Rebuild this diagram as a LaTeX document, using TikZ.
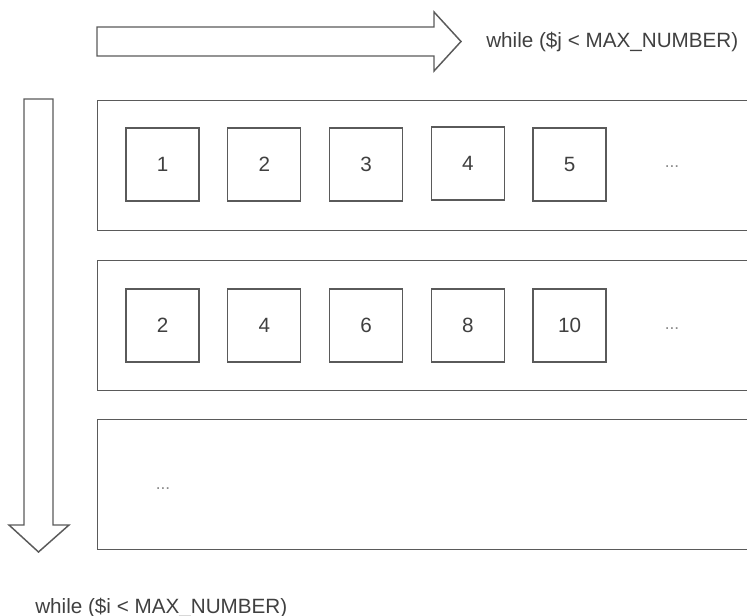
\documentclass[tikz,border=0pt]{standalone}
\usepackage{fontspec}
\setmainfont{Liberation Sans}
\definecolor{linegray}{HTML}{5A5A5A}
\definecolor{textgray}{HTML}{404040}
\definecolor{dotgray}{HTML}{8A8A8A}

\begin{document}
\begin{tikzpicture}[
    x=0.75pt, y=-0.75pt,
    row frame/.style={draw=linegray, line width=1.1pt, anchor=north west, inner sep=0pt, minimum width=500pt, minimum height=97.5pt},
    cell box/.style={draw=linegray, line width=1.1pt, inner sep=0pt, minimum width=54.75pt, minimum height=54.75pt, text=textgray, font=\fontsize{15.5}{18}\selectfont},
    dots node/.style={text=dotgray, inner sep=0pt, font=\fontsize{13}{15}\selectfont},
    loop label/.style={text=textgray, inner sep=0pt, font=\fontsize{15.5}{18}\selectfont},
    block arrow/.style={draw=linegray, line width=1.1pt, line join=miter, fill=white}
]
\clip (0,0) rectangle (747,616);

% Pfeile: aeussere Schleife nach unten, innere Schleife nach rechts
\draw[block arrow] (97,27) -- (434,27) -- (434,12) -- (461,41.5) -- (434,71) -- (434,56) -- (97,56) -- cycle;
\draw[block arrow] (24,99) -- (53,99) -- (53,525) -- (69,525) -- (38.5,552) -- (9,525) -- (24,525) -- cycle;

\node[loop label, anchor=west] (innerLoop) at (486,42) {while (\$j < MAX\_NUMBER)};
\node[loop label, anchor=base west] (outerLoop) at (35,614) {while (\$i < MAX\_NUMBER)};

% Zeilen (rechter Rand laeuft aus dem Bild)
\node[row frame] (row1) at (97,100) {};
\node[row frame] (row2) at (97,260) {};
\node[row frame] (row3) at (97,419) {};

% erste Zeile: i = 1
\node[cell box] (c11) at (162.5,164.5) {1};
\node[cell box] (c12) at (264.25,164.5) {2};
\node[cell box] (c13) at (366,164.5) {3};
\node[cell box] (c14) at (467.75,163.5) {4};
\node[cell box] (c15) at (569.5,164.5) {5};
\node[dots node] (d1) at (672,167) {...};

% zweite Zeile: i = 2
\node[cell box] (c21) at (162.5,325.5) {2};
\node[cell box] (c22) at (264.25,325.5) {4};
\node[cell box] (c23) at (366,325.5) {6};
\node[cell box] (c24) at (467.75,325.5) {8};
\node[cell box] (c25) at (569.5,325.5) {10};
\node[dots node] (d2) at (672,329) {...};

% weitere Zeilen
\node[dots node] (d3) at (163,489) {...};

\end{tikzpicture}
\end{document}
